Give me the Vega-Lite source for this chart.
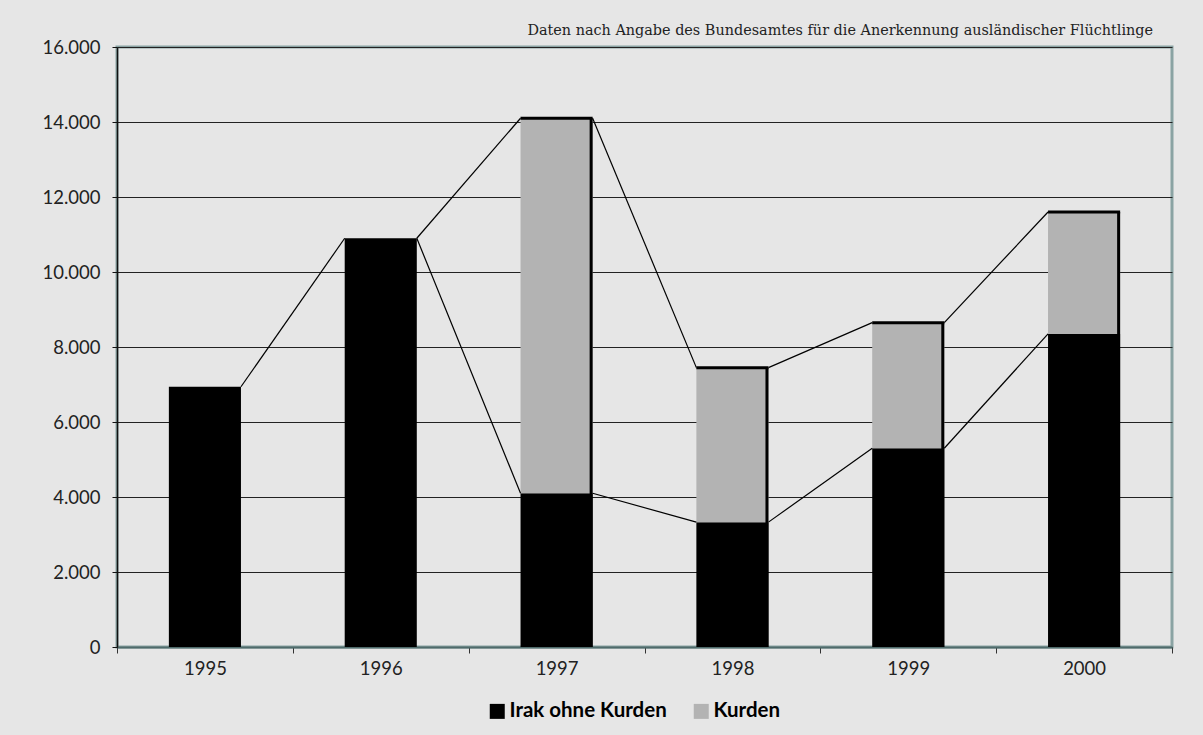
{
  "$schema": "https://vega.github.io/schema/vega-lite/v6.json",
  "width": 1055,
  "height": 600,
  "autosize": {"type": "none"},
  "padding": {"left": 117, "top": 47, "right": 31, "bottom": 88},
  "background": "#e6e6e6",
  "config": {
    "view": {"stroke": "#8aa3a3", "strokeWidth": 3, "fill": "#e6e6e6"},
    "font": "Lato"
  },
  "title": {
    "text": "Daten nach Angabe des Bundesamtes für die Anerkennung ausländischer Flüchtlinge",
    "anchor": "end",
    "frame": "group",
    "orient": "top",
    "font": "DejaVu Serif",
    "fontSize": 14.4,
    "fontWeight": "normal",
    "color": "#222",
    "dx": -19,
    "offset": 0
  },
  "datasets": {
    "bars": [
      {"year": "1995", "series": "Irak ohne Kurden", "value": 6940},
      {"year": "1995", "series": "Kurden", "value": 0},
      {"year": "1996", "series": "Irak ohne Kurden", "value": 10900},
      {"year": "1996", "series": "Kurden", "value": 0},
      {"year": "1997", "series": "Irak ohne Kurden", "value": 4100},
      {"year": "1997", "series": "Kurden", "value": 10000},
      {"year": "1998", "series": "Irak ohne Kurden", "value": 3330},
      {"year": "1998", "series": "Kurden", "value": 4120},
      {"year": "1999", "series": "Irak ohne Kurden", "value": 5300},
      {"year": "1999", "series": "Kurden", "value": 3350},
      {"year": "2000", "series": "Irak ohne Kurden", "value": 8350},
      {"year": "2000", "series": "Kurden", "value": 3250}
    ],
    "segs": [
      {"from": "1995", "to": "1996", "start": 6940, "end": 10900},
      {"from": "1996", "to": "1997", "start": 10900, "end": 4100},
      {"from": "1997", "to": "1998", "start": 4100, "end": 3330},
      {"from": "1998", "to": "1999", "start": 3330, "end": 5300},
      {"from": "1999", "to": "2000", "start": 5300, "end": 8350},
      {"from": "1996", "to": "1997", "start": 10900, "end": 14100},
      {"from": "1997", "to": "1998", "start": 14100, "end": 7450},
      {"from": "1998", "to": "1999", "start": 7450, "end": 8650},
      {"from": "1999", "to": "2000", "start": 8650, "end": 11600}
    ]
  },
  "layer": [
    {
      "data": {"name": "bars"},
      "mark": {"type": "bar", "width": {"band": 0.41}},
      "encoding": {
        "x": {
          "field": "year", "type": "nominal", "title": null,
          "scale": {"paddingInner": 0, "paddingOuter": 0},
          "axis": {
            "tickBand": "extent", "labelAngle": 0, "grid": false,
            "domainColor": "#4f6b6b", "domainWidth": 2,
            "tickColor": "#333", "tickSize": 6, "labelPadding": 6,
            "labelFont": "Lato", "labelFontSize": 18.5, "labelColor": "#222"
          }
        },
        "y": {
          "field": "value", "type": "quantitative", "stack": "zero", "title": null,
          "scale": {"domain": [0, 16000]},
          "axis": {
            "values": [0, 2000, 4000, 6000, 8000, 10000, 12000, 14000, 16000],
            "labelExpr": "replace(format(datum.value, ','), ',', '.')",
            "grid": true, "gridColor": "#222", "gridWidth": 1,
            "domainColor": "#111", "domainWidth": 1.5,
            "tickColor": "#111", "tickSize": 5, "labelPadding": 12,
            "labelFont": "Lato", "labelFontSize": 18.5, "labelColor": "#222"
          }
        },
        "color": {
          "field": "series", "type": "nominal", "title": null,
          "scale": {"domain": ["Irak ohne Kurden", "Kurden"], "range": ["#000000", "#b3b3b3"]},
          "legend": {
            "orient": "none", "legendX": 370, "legendY": 654, "direction": "horizontal",
            "symbolType": "square", "symbolSize": 225, "symbolStrokeWidth": 0,
            "labelFont": "Lato", "labelFontWeight": "bold", "labelFontSize": 20.5,
            "labelColor": "#000", "labelOffset": 2, "columnPadding": 24
          }
        },
        "order": {"field": "series", "type": "nominal", "sort": "ascending"}
      }
    },
    {
      "data": {"name": "segs"},
      "mark": {"type": "rule", "color": "#000", "strokeWidth": 1.2},
      "encoding": {
        "x": {"field": "from", "type": "nominal", "bandPosition": 0.705, "title": null},
        "x2": {"field": "to", "bandPosition": 0.295},
        "y": {"field": "start", "type": "quantitative", "title": null},
        "y2": {"field": "end"}
      }
    },
    {
      "data": {"name": "bars"},
      "transform": [{"filter": {"field": "year", "oneOf": ["1997", "1998", "1999", "2000"]}}],
      "mark": {"type": "rule", "color": "#000", "strokeWidth": 3},
      "encoding": {
        "x": {"field": "year", "type": "nominal", "bandPosition": 0.295, "title": null},
        "x2": {"field": "year", "bandPosition": 0.705},
        "y": {"aggregate": "sum", "field": "value", "type": "quantitative", "title": null}
      }
    },
    {
      "data": {"name": "bars"},
      "transform": [{"filter": {"field": "year", "oneOf": ["1997", "1998", "1999", "2000"]}}],
      "mark": {"type": "rule", "color": "#000", "strokeWidth": 3, "xOffset": -1.5},
      "encoding": {
        "x": {"field": "year", "type": "nominal", "bandPosition": 0.705, "title": null},
        "y": {"aggregate": "sum", "field": "value", "type": "quantitative", "title": null},
        "y2": {"datum": 0}
      }
    }
  ]
}
